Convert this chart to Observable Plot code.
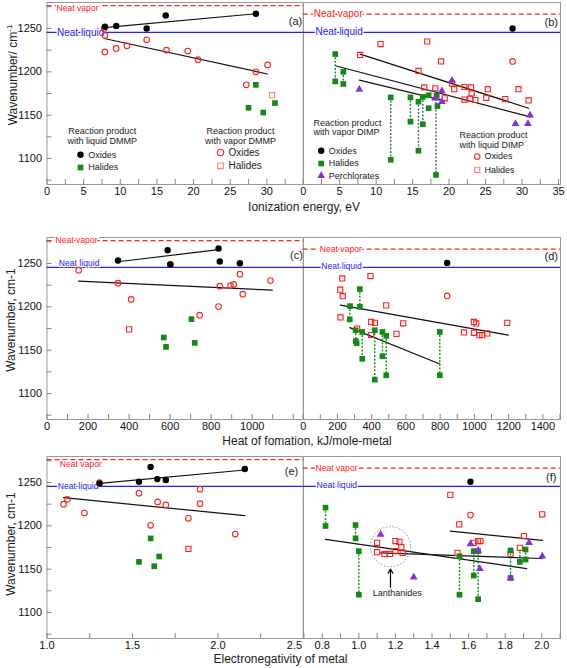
<!DOCTYPE html>
<html><head><meta charset="utf-8">
<script src="https://cdn.jsdelivr.net/npm/d3@7"></script>
<script src="https://cdn.jsdelivr.net/npm/@observablehq/plot@0.6"></script>
<style>
body{margin:0;background:#fff;font-family:"Liberation Sans",Arial,sans-serif;}
#wrap{position:relative;width:567px;height:668px;overflow:hidden;background:#fff}
.t{position:absolute;font-size:12px;white-space:nowrap;color:#222;transform:translate(-50%,-50%)}
.yt{position:absolute;font-size:12px;white-space:nowrap;color:#222;transform:translate(-50%,-50%) rotate(-90deg)}
.yt sup{font-size:8px}
</style></head><body><div id="wrap"></div>
<script>
// ---------- tick labels ----------
const wnTicks = [1100, 1150, 1200, 1250];
const ieTicksLeft = [0, 5, 10, 15, 20, 25, 30];
const ieTicksRight = [0, 5, 10, 15, 20, 25, 30, 35];
const hfTicksLeft = [0, 200, 400, 600, 800, 1000];
const hfTicksRight = [0, 200, 400, 600, 800, 1000, 1200, 1400];
const enTicksLeft = [1.0, 1.5, 2.0];
const enTickEdge = [2.5];
const enTicksRight = [0.8, 1.0, 1.2, 1.4, 1.6, 1.8, 2.0];

// ---------- reference lines ----------
const neatVaporDMMP = 1276.5;
const neatVaporDIMP = 1266.5;
const neatLiquid = 1245.5;

// ---------- (a) ionization energy, DMMP ----------
const a_liqOxides = [[7.9,1252],[9.45,1253],[13.6,1250],[16.2,1265],[28.5,1267]];
const a_vapOxides = [[7.8,1250],[7.9,1242],[7.9,1223],[9.45,1227],[10.9,1230],[13.6,1237],[16.3,1225],[19.2,1224],[20.6,1214],[27.2,1185],[28.5,1200],[30.1,1208]];
const a_liqHalides = [[28.5,1185],[27.5,1158.5],[29.5,1153],[31.1,1164]];
const a_vapHalides = [[30.7,1173]];
const a_fitLiqOx = [[7.8,1251],[28.5,1267]];
const a_fitVapOx = [[7.8,1238.5],[30.1,1197.5]];

// ---------- (b) ionization energy, DIMP ----------
const b_vapOxides = [[28.7,1250]];
const b_liqOxides = [[28.7,1212]];
const b_vapHalides = [[4.4,1220.5],[4.4,1189],[5.5,1200],[5.5,1186],[12.0,1170.5],[12.0,1098.5],[14.7,1170.5],[14.7,1142.5],[15.8,1165.5],[15.8,1109],[16.4,1171],[16.4,1139.5],[17.2,1173],[17.2,1158],[18.3,1172.5],[18.4,1160.5],[18.2,1081]];
const b_vapHalideLinks = [[4.4,1220.5,1189],[5.5,1200,1186],[12.0,1170.5,1098.5],[14.7,1170.5,1142.5],[15.8,1165.5,1109],[16.4,1171,1139.5],[18.2,1172.5,1081]];
const b_perchlorates = [[7.7,1179.5],[20.4,1190],[19.0,1178],[18.1,1169.5],[19.0,1165.5],[31.1,1150],[29.1,1140],[30.8,1140]];
const b_liqHalides = [[7.8,1219.5],[10.6,1232],[17.0,1235],[15.8,1201],[18.9,1212],[16.6,1182],[18.1,1181],[20.4,1186.5],[20.7,1180],[22.1,1182.5],[23.0,1182],[23.1,1175],[22.1,1168],[22.9,1169],[23.6,1167.5],[19.4,1169.5],[25.1,1170],[25.3,1180],[27.7,1168.5],[29.5,1180],[30.9,1167]];
const b_fit1 = [[7.8,1220.5],[30.9,1158]];
const b_fit2 = [[4.4,1207],[31.1,1148]];
const b_fit3 = [[7.7,1190.5],[19.4,1166.5]];

// ---------- (c) heat of formation, DMMP ----------
const c_liqOxides = [[346,1253.5],[588,1265.3],[601,1248.8],[836,1267.3],[842,1252.3],[940,1250.3]];
const c_vapOxides = [[154,1242.3],[346,1227.3],[410,1208.5],[601,1249],[744,1190.4],[836,1200.4],[842,1223.8],[894,1224.6],[910,1225.8],[940,1237.7],[954,1214.6],[1089,1230.4]];
const c_vapHalides = [[400,1174]];
const c_liqHalides = [[569,1164.6],[580,1153.8],[704,1185.8],[720,1158.4]];
const c_fitLiqOx = [[346,1252],[836,1266]];
const c_fitVapOx = [[154,1229.6],[1098,1219.2]];

// ---------- (d) heat of formation, DIMP ----------
const d_vapOxides = [[841,1250.7]];
const d_liqOxides = [[841,1212.6]];
const d_liqHalides = [[228,1232.7],[393,1235.5],[216,1219.8],[231,1212.3],[485,1201.7],[218,1187.7],[397,1182.6],[419,1181.5],[584,1181],[545,1168.8],[315,1175],[397,1167.5],[997,1182.6],[1011,1180.8],[997,1170],[939,1170.5],[1030,1167.3],[1046,1167.3],[1075,1169.3],[1192,1181.5]];
const d_vapHalides = [[331,1220.5],[331,1200],[274,1200.8],[272,1185.5],[306,1173],[345,1171],[307,1160.5],[312,1158],[345,1140],[418,1173],[418,1116],[463,1171],[463,1143],[485,1166.5],[485,1121],[798,1171],[798,1121]];
const d_vapHalideLinks = [[331,1220.5,1200],[273,1200.8,1185.5],[307,1173,1160.5],[345,1171,1140],[418,1173,1116],[463,1171,1143],[485,1166.5,1121],[798,1171,1121]];
const d_fit1 = [[218,1202],[1198,1167.3]];
const d_fit2 = [[272,1176],[798,1134]];

// ---------- (e) electronegativity, DMMP ----------
const e_liqOxides = [[1.307,1248.8],[1.538,1250.8],[1.606,1268],[1.645,1253.9],[1.695,1252.8],[2.157,1265.5]];
const e_vapOxides = [[1.097,1225],[1.12,1230.7],[1.219,1214.8],[1.307,1250],[1.538,1237.7],[1.606,1200.6],[1.647,1227.6],[1.695,1224.1],[1.827,1208.7],[1.895,1242.3],[1.895,1225.6],[2.101,1190.5]];
const e_vapHalides = [[1.827,1173.4]];
const e_liqHalides = [[1.538,1158.4],[1.606,1185.5],[1.627,1153.4],[1.656,1164.6]];
const e_fitLiqOx = [[1.307,1249],[2.157,1264.4]];
const e_fitVapOx = [[1.097,1232.6],[2.157,1211.7]];

// ---------- (f) electronegativity, DIMP ----------
const f_vapOxides = [[1.61,1250.8]];
const f_liqOxides = [[1.61,1212.5]];
const f_liqHalides = [[1.50,1235.7],[1.549,1201.7],[2.002,1213.3],[1.10,1180.4],[1.10,1169.6],[1.14,1167.6],[1.17,1167.6],[1.20,1182.4],[1.222,1181.6],[1.232,1175.4],[1.20,1170.8],[1.24,1168.8],[1.539,1168.8],[1.628,1180.4],[1.652,1182.4],[1.665,1182.4],[1.829,1167.6],[1.88,1174.6],[1.902,1188.2]];
const f_vapHalides = [[0.818,1221],[0.818,1199.8],[0.982,1200.9],[0.982,1185.5],[1.0,1170.8],[1.0,1120.5],[1.55,1165],[1.55,1120.5],[1.628,1170.8],[1.628,1142.6],[1.652,1170.8],[1.652,1115.4],[1.829,1171.6],[1.829,1139.8],[1.88,1158.4],[1.911,1172.7],[1.911,1161.1]];
const f_vapHalideLinks = [[0.818,1221,1199.8],[0.982,1200.9,1185.5],[1.0,1170.8,1120.5],[1.55,1165,1120.5],[1.628,1170.8,1142.6],[1.652,1170.8,1115.4],[1.829,1171.6,1139.8],[1.88,1170,1158.4],[1.911,1172.7,1161.1]];
const f_perchlorates = [[1.119,1190],[1.30,1140.6],[1.61,1179],[1.652,1171.6],[1.661,1150.5],[1.829,1139.8],[1.93,1180.4],[2.002,1165]];
const f_fit1 = [[0.818,1184.3],[1.917,1150.7]];
const f_fit2 = [[1.119,1168.8],[2.002,1162.3]];
const f_fit3 = [[1.50,1194],[2.002,1183.2]];
const lanthCircle = [[1.173,1176]];
const lanthArrow = [[1.173,1129,1150]];
const lanthLabel = [[1.21,1127,"Lanthanides"]];

// ---------- styles ----------
const RED = "#ff2020", BLUE = "#2222ff", GREEN = "#138a13", PURPLE = "#8b2be2";
const ST = {
  black: {symbol:"circle", fill:"#000", r:3.2},
  redC: {symbol:"circle", stroke:RED, fill:"none", r:2.8, strokeWidth:1.1},
  redS: {symbol:"square", stroke:RED, fill:"none", r:2.9, strokeWidth:1.1},
  salS: {symbol:"square", stroke:"#f0906e", fill:"none", r:2.9, strokeWidth:1.1},
  green: {symbol:"square", fill:GREEN, r:3.2},
  tri: {symbol:"triangle", fill:PURPLE, r:2.9}
};

const wrap = document.getElementById("wrap");
const ROW_TOP = [1.7, 237.3, 455.7], PLOT_H = 182, MT = 14, MB = 28;
const COLS = [{left:0, width:305, ml:46.5, mr:2}, {left:296, width:271, ml:6.7, mr:7}];
const yMinor = d3.range(1075, 1280, 25);
const xy = {x: d => d[0], y: d => d[1]};

function panel(p) {
  const c = COLS[p.col], top = ROW_TOP[p.row];
  const plotW = c.width - c.ml - c.mr;
  const marks = [Plot.frame({stroke:"#999"})];
  marks.push(Plot.ruleX(p.xMinor, {insetTop: PLOT_H - 5, stroke:"#888"}));
  marks.push(Plot.axisX({ticks: p.xLabels, tickSize:0, tickPadding:3, tickFormat:p.fmt, label:null, fill:"#111"}));
  if (p.edge) marks.push(Plot.axisX({ticks: p.edge, tickSize:0, tickPadding:3, tickFormat:p.fmt, label:null, fill:"#111", dx:-9}));
  if (p.col === 0) {
    marks.push(Plot.ruleY(yMinor, {insetRight: plotW - 5, stroke:"#888"}));
    marks.push(Plot.axisY({ticks: wnTicks, tickSize:0, tickPadding:5, tickFormat:d => String(d), label:null, fill:"#111"}));
  }
  marks.push(Plot.ruleY([p.vapor], {stroke:RED, strokeDasharray:"5,3", strokeWidth:1.2}));
  marks.push(Plot.ruleY([p.liquid], {stroke:BLUE, strokeWidth:1.2}));
  const nl = p.neat;
  marks.push(Plot.text([["Neat vapor", p.vapor]], {frameAnchor:"left", y:d=>d[1], text:d=>d[0], dx:nl.vx, dy:nl.vy, fontSize:nl.vf, fill:RED, stroke:"white", strokeWidth:2.5, paintOrder:"stroke", textAnchor:"start"}));
  marks.push(Plot.text([["Neat liquid", p.liquid]], {frameAnchor:"left", y:d=>d[1], text:d=>d[0], dx:nl.lx, dy:nl.ly, fontSize:nl.lf, fill:BLUE, stroke:"white", strokeWidth:2.5, paintOrder:"stroke", textAnchor:"start"}));
  for (const f of p.fits) marks.push(Plot.line(f, {...xy, stroke:"#111", strokeWidth:1.2}));
  if (p.links) marks.push(Plot.ruleX(p.links, {x:d=>d[0], y1:d=>d[1], y2:d=>d[2], stroke:p.linkColor, strokeDasharray:"2,1.6", strokeWidth:1.4}));
  for (const [data, st] of p.series) marks.push(Plot.dot(data, {...xy, ...st}));
  if (p.extra) marks.push(...p.extra);
  for (const it of p.legend) {
    if (it.t) marks.push(Plot.text([it.t], {frameAnchor:"top-left", dx:it.dx, dy:it.dy, text:d=>d, textAnchor:it.a || "start", lineAnchor:"middle", fontSize:it.fs || 9, fill:"#222"}));
    else marks.push(Plot.dot([0], {frameAnchor:"top-left", dx:it.dx, dy:it.dy, ...it.s}));
  }
  marks.push(Plot.text([p.tag], {frameAnchor:"top-right", dx:p.tagPos[0], dy:p.tagPos[1], text:d=>d, textAnchor:"middle", lineAnchor:"middle", fontSize:11, fill:"#222"}));
  const svg = Plot.plot({
    width:c.width, height:MT + PLOT_H + MB,
    marginLeft:c.ml, marginRight:c.mr, marginTop:MT, marginBottom:MB,
    x:{domain:p.xDomain},
    y:{domain:[1070,1280], axis: p.col === 0 ? undefined : null},
    style:{background:"transparent", fontFamily:"Liberation Sans, Arial, sans-serif", fontSize:"11px", overflow:"visible"},
    marks
  });
  svg.style.position = "absolute";
  svg.style.left = c.left + "px";
  svg.style.top = (top - MT) + "px";
  wrap.appendChild(svg);
}

const fmt0 = d => String(d), fmt1 = d3.format(".1f");

panel({col:0, row:0, xDomain:[0,35], xMinor:d3.range(0,35.1,2.5), xLabels:ieTicksLeft, fmt:fmt0,
  vapor:neatVaporDMMP, liquid:neatLiquid, neat:{vx:9.5, vy:3, vf:8.6, lx:10, ly:0, lf:10},
  fits:[a_fitLiqOx, a_fitVapOx],
  series:[[a_vapOxides, ST.redC],[a_vapHalides, ST.salS],[a_liqHalides, ST.green],[a_liqOxides, ST.black]],
  legend:[
    {t:"Reaction product", dx:55.2, dy:129, a:"middle"}, {t:"with liquid DMMP", dx:55.2, dy:139, a:"middle"},
    {s:ST.black, dx:33.5, dy:152.3}, {t:"Oxides", dx:41.2, dy:152.3},
    {s:ST.green, dx:33.5, dy:165}, {t:"Halides", dx:41.2, dy:165},
    {t:"Reaction product", dx:193.5, dy:129, a:"middle"}, {t:"with vapor DMMP", dx:193.5, dy:139, a:"middle"},
    {s:{...ST.redC, r:3.2}, dx:173.5, dy:150}, {t:"Oxides", dx:181.5, dy:150, fs:10},
    {s:{...ST.salS, r:3.2}, dx:173.5, dy:163.3}, {t:"Halides", dx:181.5, dy:163.3, fs:10}
  ], tag:"(a)", tagPos:[-8, 19]});

panel({col:1, row:0, xDomain:[0,35.27], xMinor:d3.range(0,35.1,2.5), xLabels:ieTicksRight, fmt:fmt0,
  vapor:neatVaporDIMP, liquid:neatLiquid, neat:{vx:10.6, vy:0, vf:10, lx:12.3, ly:-1, lf:10},
  fits:[b_fit1, b_fit2, b_fit3], links:b_vapHalideLinks, linkColor:"#3b6868",
  series:[[b_liqHalides, ST.redS],[b_liqOxides, ST.redC],[b_vapHalides, ST.green],[b_perchlorates, ST.tri],[b_vapOxides, ST.black]],
  legend:[
    {t:"Reaction product", dx:10.3, dy:121}, {t:"with vapor DIMP", dx:10.3, dy:130},
    {s:ST.black, dx:18, dy:148.3}, {t:"Oxides", dx:25.5, dy:148.3},
    {s:ST.green, dx:18, dy:161}, {t:"Halides", dx:25.5, dy:161},
    {s:ST.tri, dx:18, dy:173.3}, {t:"Perchlorates", dx:25.5, dy:173.3},
    {t:"Reaction product", dx:156.3, dy:132.3}, {t:"with liquid DIMP", dx:156.3, dy:142.3},
    {s:ST.redC, dx:174, dy:154}, {t:"Oxides", dx:181.3, dy:154},
    {s:{...ST.redS, stroke:"#f0906e"}, dx:174, dy:167.3}, {t:"Halides", dx:181.3, dy:167.3}
  ], tag:"(b)", tagPos:[-9.3, 20]});

panel({col:0, row:1, xDomain:[0,1250], xMinor:d3.range(0,1251,100), xLabels:hfTicksLeft, fmt:fmt0,
  vapor:neatVaporDMMP, liquid:neatLiquid, neat:{vx:8.5, vy:0, vf:8.6, lx:11.8, ly:-4.5, lf:8.6},
  fits:[c_fitLiqOx, c_fitVapOx],
  series:[[c_vapOxides, ST.redC],[c_vapHalides, ST.redS],[c_liqHalides, ST.green],[c_liqOxides, ST.black]],
  legend:[], tag:"(c)", tagPos:[-7, 17.7]});

panel({col:1, row:1, xDomain:[0,1503], xMinor:d3.range(0,1501,100), xLabels:hfTicksRight, fmt:fmt0,
  vapor:neatVaporDIMP, liquid:neatLiquid, neat:{vx:16.6, vy:0, vf:8.6, lx:18, ly:-1.3, lf:8.6},
  fits:[d_fit1, d_fit2], links:d_vapHalideLinks, linkColor:GREEN,
  series:[[d_liqHalides, ST.redS],[d_liqOxides, ST.redC],[d_vapHalides, ST.green],[d_vapOxides, ST.black]],
  legend:[], tag:"(d)", tagPos:[-9.3, 19.4]});

panel({col:0, row:2, xDomain:[1.0,2.5], xMinor:d3.range(1.0,2.51,0.25), xLabels:enTicksLeft, edge:enTickEdge, fmt:fmt1,
  vapor:neatVaporDMMP, liquid:neatLiquid, neat:{vx:12.8, vy:5, vf:8.6, lx:10.8, ly:0, lf:8.6},
  fits:[e_fitLiqOx, e_fitVapOx],
  series:[[e_vapOxides, ST.redC],[e_vapHalides, ST.redS],[e_liqHalides, ST.green],[e_liqOxides, ST.black]],
  legend:[], tag:"(e)", tagPos:[-12, 15]});

panel({col:1, row:2, xDomain:[0.696,2.102], xMinor:d3.range(0.7,2.11,0.1), xLabels:enTicksRight, fmt:fmt1,
  vapor:neatVaporDIMP, liquid:neatLiquid, neat:{vx:12.3, vy:0, vf:8.6, lx:13.3, ly:-1, lf:8.6},
  fits:[f_fit1, f_fit2, f_fit3], links:f_vapHalideLinks, linkColor:GREEN,
  series:[[f_liqHalides, ST.redS],[f_liqOxides, ST.redC],[f_vapHalides, ST.green],[f_perchlorates, ST.tri],[f_vapOxides, ST.black]],
  extra:[
    Plot.dot(lanthCircle, {...xy, r:20, stroke:"#8a8aaa", strokeDasharray:"1.5,1.8", fill:"none", strokeWidth:1}),
    Plot.arrow(lanthArrow, {x1:d=>d[0], y1:d=>d[1], x2:d=>d[0], y2:d=>d[2], stroke:"#000", strokeWidth:1.2, headLength:6}),
    Plot.text(lanthLabel, {...xy, text:d=>d[2], lineAnchor:"top", fontSize:9, fill:"#222", dy:1})
  ],
  legend:[], tag:"(f)", tagPos:[-9.3, 21]});

// ---------- axis titles ----------
function addText(cls, html, x, y) {
  const d = document.createElement("div");
  d.className = cls; d.innerHTML = html;
  d.style.left = x + "px"; d.style.top = y + "px";
  wrap.appendChild(d);
}
addText("yt", "Wavenumber/ cm<sup>-1</sup>", 11.5, 75);
addText("yt", "Wavenumber, cm-1", 11, 320);
addText("yt", "Wavenumber, cm-1", 11, 544);
addText("t", "Ionization energy, eV", 304, 207);
addText("t", "Heat of fomation, kJ/mole-metal", 307, 441);
addText("t", "Electronegativity of metal", 280.5, 659);
</script></body></html>
